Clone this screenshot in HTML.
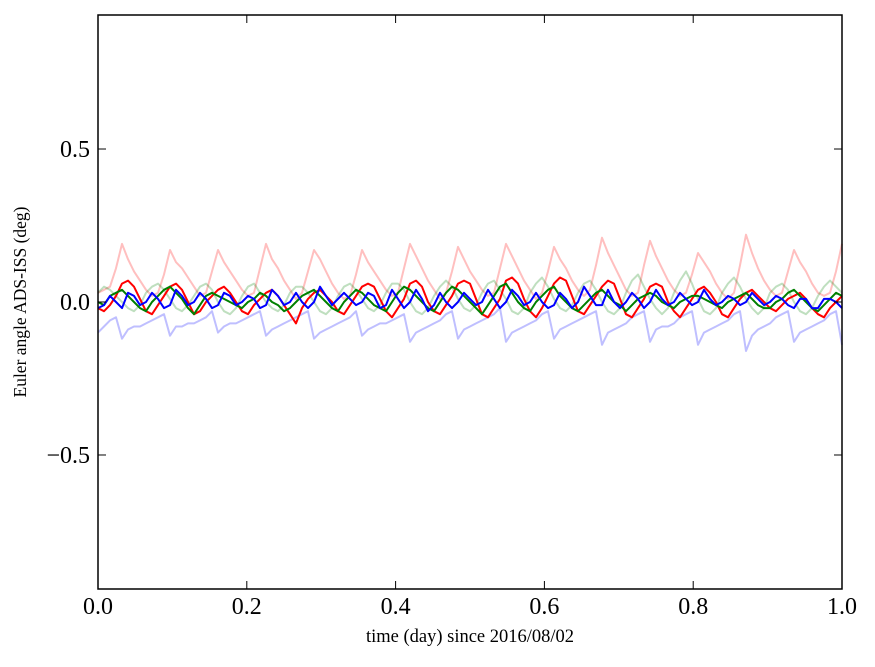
<!DOCTYPE html>
<html><head><meta charset="utf-8"><style>
body{margin:0;background:#fff;}
svg text{font-family:"Liberation Serif",serif;}
</style></head><body>
<svg id="chart" width="875" height="662" viewBox="0 0 875 662" xmlns="http://www.w3.org/2000/svg">
<g id="series"></g>
<rect x="98" y="15" width="744" height="574" fill="none" stroke="#000" stroke-width="1.5"/>
<g id="axes"></g>
<text x="470" y="642" font-size="18.5" text-anchor="middle">time (day) since 2016/08/02</text>
<text x="26" y="302" font-size="17.5" text-anchor="middle" transform="rotate(-90 26 302)">Euler angle ADS-ISS (deg)</text>
</svg>
<script>
const xTicks=[0,0.2,0.4,0.6,0.8,1.0];
const xTickLabels=["0.0","0.2","0.4","0.6","0.8","1.0"];
const yTicks=[-0.5,0,0.5];
const yTickLabels=["\u22120.5","0.0","0.5"];
const fadedRoll=[0.03,0.04,0.05,0.11,0.19,0.14,0.10,0.07,0.04,0.02,0.03,0.09,0.17,0.13,0.11,0.08,0.05,0.02,0.03,0.10,0.17,0.13,0.10,0.07,0.04,0.02,0.03,0.11,0.19,0.14,0.11,0.07,0.04,0.01,0.03,0.10,0.17,0.14,0.10,0.06,0.03,0.01,0.02,0.09,0.17,0.13,0.10,0.07,0.04,0.02,0.03,0.11,0.19,0.15,0.11,0.07,0.04,0.01,0.03,0.10,0.18,0.14,0.10,0.07,0.04,0.02,0.03,0.11,0.19,0.15,0.11,0.07,0.04,0.01,0.03,0.10,0.18,0.14,0.11,0.07,0.04,0.02,0.04,0.12,0.21,0.16,0.12,0.08,0.04,0.02,0.03,0.12,0.20,0.15,0.11,0.07,0.04,0.02,0.03,0.09,0.16,0.13,0.10,0.06,0.03,0.01,0.03,0.12,0.22,0.16,0.11,0.07,0.04,0.02,0.03,0.10,0.17,0.13,0.10,0.06,0.03,0.02,0.03,0.10,0.19];
const fadedPitch=[0.03,0.05,0.04,0.02,0.00,-0.02,-0.03,-0.01,0.03,0.05,0.06,0.04,0.01,-0.02,-0.03,-0.01,0.02,0.05,0.06,0.04,0.00,-0.03,-0.04,-0.02,0.02,0.05,0.06,0.03,0.00,-0.02,-0.03,-0.01,0.03,0.05,0.05,0.03,0.00,-0.03,-0.04,-0.02,0.02,0.05,0.06,0.04,0.01,-0.02,-0.03,-0.01,0.03,0.06,0.06,0.04,0.00,-0.03,-0.04,-0.02,0.02,0.05,0.07,0.05,0.01,-0.02,-0.03,-0.01,0.03,0.06,0.07,0.04,0.01,-0.03,-0.04,-0.02,0.03,0.06,0.08,0.05,0.01,-0.02,-0.03,-0.01,0.03,0.06,0.07,0.04,0.00,-0.03,-0.04,-0.02,0.03,0.07,0.09,0.05,0.01,-0.02,-0.04,-0.02,0.03,0.07,0.10,0.06,0.01,-0.03,-0.04,-0.02,0.03,0.06,0.08,0.05,0.01,-0.02,-0.04,-0.02,0.03,0.05,0.06,0.04,0.00,-0.03,-0.04,-0.02,0.02,0.05,0.07,0.05,0.03];
const fadedYaw=[-0.10,-0.08,-0.06,-0.05,-0.12,-0.09,-0.08,-0.08,-0.07,-0.06,-0.05,-0.04,-0.11,-0.08,-0.08,-0.07,-0.07,-0.06,-0.05,-0.03,-0.10,-0.08,-0.07,-0.07,-0.06,-0.05,-0.04,-0.03,-0.11,-0.09,-0.08,-0.07,-0.06,-0.05,-0.04,-0.03,-0.12,-0.10,-0.09,-0.08,-0.07,-0.06,-0.05,-0.03,-0.11,-0.09,-0.08,-0.07,-0.07,-0.06,-0.05,-0.04,-0.13,-0.10,-0.09,-0.08,-0.07,-0.06,-0.04,-0.03,-0.12,-0.09,-0.08,-0.07,-0.06,-0.05,-0.04,-0.02,-0.13,-0.10,-0.09,-0.08,-0.07,-0.06,-0.04,-0.03,-0.12,-0.09,-0.08,-0.07,-0.06,-0.05,-0.04,-0.03,-0.14,-0.10,-0.09,-0.08,-0.07,-0.05,-0.04,-0.03,-0.13,-0.09,-0.08,-0.08,-0.07,-0.05,-0.04,-0.03,-0.14,-0.10,-0.09,-0.08,-0.07,-0.06,-0.04,-0.03,-0.16,-0.11,-0.09,-0.08,-0.07,-0.05,-0.04,-0.03,-0.13,-0.10,-0.09,-0.08,-0.07,-0.06,-0.04,-0.03,-0.14];
const roll=[-0.02,-0.03,-0.01,0.02,0.06,0.07,0.05,0.01,-0.03,-0.04,-0.01,0.02,0.05,0.06,0.04,0.00,-0.04,-0.03,0.00,0.02,0.04,0.05,0.03,0.00,-0.03,-0.04,-0.01,0.01,0.03,0.04,0.02,-0.01,-0.04,-0.07,-0.02,0.01,0.03,0.04,0.02,0.00,-0.03,-0.04,-0.01,0.02,0.05,0.06,0.05,0.01,-0.03,-0.05,-0.02,0.01,0.06,0.07,0.05,0.00,-0.03,-0.04,-0.01,0.02,0.06,0.07,0.06,0.01,-0.04,-0.05,-0.02,0.01,0.07,0.08,0.06,0.01,-0.03,-0.05,-0.02,0.02,0.06,0.08,0.07,0.02,-0.03,-0.04,-0.01,0.02,0.05,0.07,0.06,0.01,-0.04,-0.05,-0.02,0.01,0.05,0.06,0.05,0.00,-0.03,-0.05,-0.02,0.01,0.04,0.05,0.03,0.00,-0.04,-0.05,-0.02,0.01,0.03,0.04,0.02,0.00,-0.02,-0.03,-0.01,0.01,0.02,0.03,0.01,-0.02,-0.04,-0.05,-0.02,0.00,0.02];
const pitch=[0.00,-0.01,0.02,0.03,0.04,0.02,0.00,-0.02,-0.03,0.00,0.02,0.04,0.05,0.03,0.01,-0.02,-0.04,-0.01,0.02,0.03,0.02,0.01,0.00,-0.01,-0.02,0.00,0.01,0.03,0.02,0.00,-0.01,-0.03,-0.02,0.00,0.02,0.03,0.04,0.02,0.00,-0.02,-0.03,0.00,0.02,0.04,0.03,0.01,-0.01,-0.02,-0.03,0.00,0.03,0.05,0.04,0.02,0.00,-0.02,-0.03,0.00,0.03,0.05,0.04,0.02,0.00,-0.02,-0.04,-0.01,0.02,0.05,0.06,0.03,0.00,-0.02,-0.03,0.00,0.02,0.04,0.05,0.02,0.00,-0.02,-0.03,-0.01,0.01,0.03,0.04,0.02,0.00,-0.01,-0.03,-0.01,0.01,0.02,0.03,0.02,0.00,-0.01,-0.02,0.00,0.01,0.02,0.02,0.01,0.00,-0.01,-0.02,0.00,0.01,0.02,0.03,0.01,-0.01,-0.02,-0.02,0.00,0.01,0.03,0.04,0.02,0.00,-0.02,-0.03,-0.01,0.01,0.03,0.02];
const yaw=[-0.02,-0.01,0.02,0.00,-0.02,0.03,0.02,-0.01,0.00,0.03,0.01,-0.02,-0.01,0.04,0.02,-0.01,0.00,0.03,0.01,-0.02,-0.01,0.03,0.02,-0.01,0.00,0.02,0.01,-0.02,-0.01,0.04,0.02,-0.01,0.00,0.03,0.00,-0.02,0.00,0.05,0.02,-0.01,0.01,0.03,0.01,-0.01,0.00,0.03,0.02,-0.02,-0.01,0.04,0.01,-0.02,0.00,0.04,0.01,-0.03,-0.01,0.03,0.00,-0.02,0.00,0.03,0.01,-0.01,0.00,0.04,0.01,-0.02,0.00,0.04,0.02,-0.01,0.00,0.03,0.00,-0.02,-0.01,0.03,0.01,-0.02,0.00,0.05,0.02,-0.01,-0.01,0.04,0.00,-0.02,0.00,0.03,0.01,-0.02,0.00,0.04,0.01,-0.01,0.00,0.03,0.01,-0.01,0.00,0.04,0.01,-0.01,0.00,0.02,0.01,-0.01,0.00,0.03,0.01,-0.01,0.00,0.02,0.01,-0.01,-0.02,0.01,0.01,-0.02,-0.02,0.01,0.01,0.00,-0.02];
const X0=98,X1=842,Y0=589,Y1=15,YMIN=-0.938,YMAX=0.938;
function sx(v){return X0+(v-0)*(X1-X0)/1.0;}
function sy(v){return Y0-(v-YMIN)*(Y0-Y1)/(YMAX-YMIN);}
const NS="http://www.w3.org/2000/svg";
const g=document.getElementById('series');
function draw(arr,color,op,name){
  const n=arr.length;
  const d=arr.map((v,i)=>(i?'L':'M')+sx(i/(n-1)).toFixed(1)+' '+sy(v).toFixed(1)).join(' ');
  const p=document.createElementNS(NS,'path');
  p.setAttribute('d',d);p.setAttribute('fill','none');p.setAttribute('stroke',color);
  p.setAttribute('stroke-width','2');p.setAttribute('stroke-opacity',op);p.setAttribute('stroke-linejoin','round');
  
  
  g.appendChild(p);
}
draw(fadedRoll,'#ff0000',0.25,'series-roll-faded');
draw(fadedPitch,'#008000',0.25,'series-pitch-faded');
draw(fadedYaw,'#0000ff',0.25,'series-yaw-faded');
draw(roll,'#ff0000',1,'series-roll');
draw(pitch,'#008000',1,'series-pitch');
draw(yaw,'#0000ff',1,'series-yaw');
const ax=document.getElementById('axes');
function el(tag,attrs){const e=document.createElementNS(NS,tag);for(const k in attrs)e.setAttribute(k,attrs[k]);ax.appendChild(e);return e;}
xTicks.forEach((v,i)=>{
  const x=sx(v);
  const t1=el('line',{x1:x,x2:x,y1:Y0,y2:Y0-8,stroke:'#000'});
  
  
  const t2=el('line',{x1:x,x2:x,y1:Y1,y2:Y1+8,stroke:'#000'});
  
  
  const tx=el('text',{x:x,y:614,'font-size':24,'text-anchor':'middle'});
  tx.textContent=xTickLabels[i];
  
  
});
yTicks.forEach((v,i)=>{
  const y=sy(v);
  const t1=el('line',{x1:X0,x2:X0+8,y1:y,y2:y,stroke:'#000'});
  
  
  const t2=el('line',{x1:X1,x2:X1-8,y1:y,y2:y,stroke:'#000'});
  
  
  const tx=el('text',{x:90,y:y+8,'font-size':24,'text-anchor':'end'});
  tx.textContent=yTickLabels[i];
  
  
});
</script>
</body></html>
